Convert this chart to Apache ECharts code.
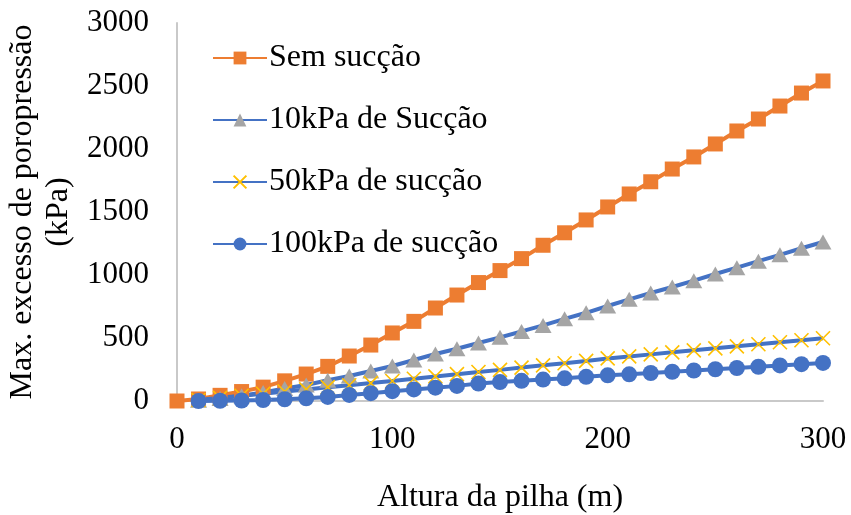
<!DOCTYPE html>
<html>
<head>
<meta charset="utf-8">
<script src="https://cdn.jsdelivr.net/npm/echarts@6/dist/echarts.min.js"></script>
<style>
  html, body { margin: 0; padding: 0; background: #ffffff; }
  #chart { width: 851px; height: 515px; }
</style>
</head>
<body>
<div id="chart"></div>
<script>
// Pile height (m)
const alturas = [0, 10, 20, 30, 40, 50, 60, 70, 80, 90, 100, 110, 120, 130, 140, 150,
  160, 170, 180, 190, 200, 210, 220, 230, 240, 250, 260, 270, 280, 290, 300];

// Maximum excess pore pressure (kPa) for each suction level
const semSuccao = [0, 16, 45, 75, 110, 160, 214, 275, 357, 444, 540, 632, 738, 841, 940,
  1035, 1130, 1236, 1335, 1437, 1540, 1643, 1740, 1841, 1937, 2040, 2143, 2238, 2341, 2444, 2540];
// the suction series start at 10 m
const succao10 = [null, 5, 20, 42, 68, 100, 127, 165, 198, 238, 278, 325, 373, 415, 460,
  505, 552, 600, 652, 700, 754, 807, 857, 905, 955, 1008, 1058, 1110, 1160, 1212, 1262];
const succao50 = [null, 8, 25, 42, 58, 75, 92, 110, 125, 142, 159, 177, 195, 213, 230,
  247, 265, 283, 300, 318, 338, 354, 370, 386, 402, 418, 434, 450, 466, 482, 498];
const succao100 = [null, 0, 2, 4, 8, 14, 22, 32, 48, 62, 78, 92, 106, 120, 138,
  150, 160, 170, 180, 192, 204, 212, 222, 232, 242, 252, 262, 272, 282, 292, 302];

const nomes = ['Sem sucção', '10kPa de Sucção', '50kPa de sucção', '100kPa de sucção'];
const xTicks = [0, 100, 200, 300];
const yTicks = [0, 500, 1000, 1500, 2000, 2500, 3000];

const FONT = '"Liberation Serif", "Times New Roman", serif';
const BLUE = '#4472C4';

function pares(vals) {
  const out = [];
  vals.forEach((v, i) => { if (v !== null) out.push([alturas[i], v]); });
  return out;
}

const chart = echarts.init(document.getElementById('chart'), null, { renderer: 'canvas' });

chart.setOption({
  animation: false,
  backgroundColor: '#ffffff',
  textStyle: { fontFamily: FONT, color: '#000000' },
  grid: { left: 177, right: 28, top: 23, bottom: 114, containLabel: false, outerBoundsMode: 'none' },
  legend: {
    orient: 'vertical',
    left: 212,
    top: 42,
    padding: 0,
    itemWidth: 54,
    itemHeight: 16,
    itemGap: 30,
    textStyle: { fontFamily: FONT, fontSize: 32, color: '#000000', lineHeight: 32, padding: [0, 0, 0, -3] },
    data: nomes
  },
  xAxis: {
    type: 'value',
    min: xTicks[0],
    max: xTicks[xTicks.length - 1],
    interval: 100,
    name: 'Altura da pilha (m)',
    nameLocation: 'middle',
    nameGap: 81,
    nameTextStyle: { fontFamily: FONT, fontSize: 32, color: '#000000', verticalAlign: 'top' },
    axisLine: { show: true, lineStyle: { color: '#C9C9C9', width: 2 } },
    axisTick: { show: false },
    splitLine: { show: false },
    axisLabel: { fontFamily: FONT, fontSize: 31, color: '#000000', margin: 23, formatter: v => String(v) }
  },
  yAxis: {
    type: 'value',
    min: yTicks[0],
    max: yTicks[yTicks.length - 1],
    interval: 500,
    name: 'Max. excesso de poropressão\n(kPa)',
    nameLocation: 'middle',
    nameGap: 100,
    nameTextStyle: { fontFamily: FONT, fontSize: 32, color: '#000000', lineHeight: 36 },
    axisLine: { show: true, lineStyle: { color: '#C9C9C9', width: 2 } },
    axisTick: { show: false },
    splitLine: { show: false },
    axisLabel: { fontFamily: FONT, fontSize: 31, color: '#000000', margin: 28, formatter: v => String(v) }
  },
  series: [
    {
      name: nomes[0], type: 'line', data: pares(semSuccao),
      symbol: 'rect', symbolSize: 15, showAllSymbol: true,
      lineStyle: { color: '#ED7D31', width: 4 },
      itemStyle: { color: '#ED7D31' }
    },
    {
      name: nomes[1], type: 'line', data: pares(succao10),
      symbol: 'triangle', symbolSize: [17, 15], showAllSymbol: true,
      lineStyle: { color: BLUE, width: 4 },
      itemStyle: { color: '#A5A5A5' }
    },
    {
      name: nomes[2], type: 'line', data: pares(succao50),
      symbol: 'path://M0,0 L10,10 M10,0 L0,10', symbolSize: 14, showAllSymbol: true,
      lineStyle: { color: BLUE, width: 4 },
      itemStyle: { color: '#FFC000', borderColor: '#FFC000', borderWidth: 1.6 }
    },
    {
      name: nomes[3], type: 'line', data: pares(succao100),
      symbol: 'circle', symbolSize: 16, showAllSymbol: true,
      lineStyle: { color: BLUE, width: 4 },
      itemStyle: { color: BLUE }
    }
  ]
});
</script>
</body>
</html>
